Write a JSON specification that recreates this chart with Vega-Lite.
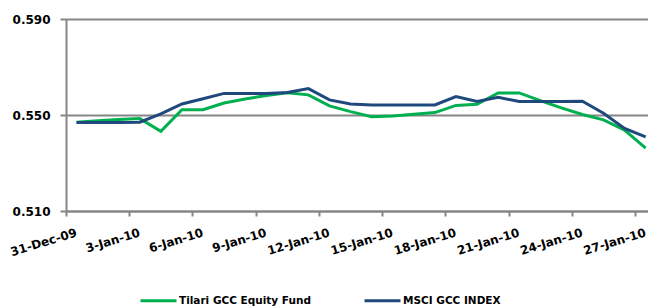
{
  "$schema": "https://vega.github.io/schema/vega-lite/v6.json",
  "autosize": "none",
  "width": 582,
  "height": 192,
  "padding": {"left": 66, "top": 19, "right": 0, "bottom": 95},
  "background": "white",
  "config": {
    "view": {"stroke": null},
    "font": "DejaVu Sans"
  },
  "datasets": {
    "nav": [
      {"date": "2009-12-31", "series": "Tilari GCC Equity Fund", "value": 0.5470},
      {"date": "2010-01-01", "series": "Tilari GCC Equity Fund", "value": 0.5476},
      {"date": "2010-01-02", "series": "Tilari GCC Equity Fund", "value": 0.5481},
      {"date": "2010-01-03", "series": "Tilari GCC Equity Fund", "value": 0.5485},
      {"date": "2010-01-04", "series": "Tilari GCC Equity Fund", "value": 0.5432},
      {"date": "2010-01-05", "series": "Tilari GCC Equity Fund", "value": 0.5522},
      {"date": "2010-01-06", "series": "Tilari GCC Equity Fund", "value": 0.5522},
      {"date": "2010-01-07", "series": "Tilari GCC Equity Fund", "value": 0.5550},
      {"date": "2010-01-08", "series": "Tilari GCC Equity Fund", "value": 0.5567},
      {"date": "2010-01-09", "series": "Tilari GCC Equity Fund", "value": 0.5581},
      {"date": "2010-01-10", "series": "Tilari GCC Equity Fund", "value": 0.5593},
      {"date": "2010-01-11", "series": "Tilari GCC Equity Fund", "value": 0.5584},
      {"date": "2010-01-12", "series": "Tilari GCC Equity Fund", "value": 0.5538},
      {"date": "2010-01-13", "series": "Tilari GCC Equity Fund", "value": 0.5514},
      {"date": "2010-01-14", "series": "Tilari GCC Equity Fund", "value": 0.5493},
      {"date": "2010-01-15", "series": "Tilari GCC Equity Fund", "value": 0.5496},
      {"date": "2010-01-16", "series": "Tilari GCC Equity Fund", "value": 0.5503},
      {"date": "2010-01-17", "series": "Tilari GCC Equity Fund", "value": 0.5510},
      {"date": "2010-01-18", "series": "Tilari GCC Equity Fund", "value": 0.5540},
      {"date": "2010-01-19", "series": "Tilari GCC Equity Fund", "value": 0.5545},
      {"date": "2010-01-20", "series": "Tilari GCC Equity Fund", "value": 0.5592},
      {"date": "2010-01-21", "series": "Tilari GCC Equity Fund", "value": 0.5592},
      {"date": "2010-01-22", "series": "Tilari GCC Equity Fund", "value": 0.5560},
      {"date": "2010-01-23", "series": "Tilari GCC Equity Fund", "value": 0.5530},
      {"date": "2010-01-24", "series": "Tilari GCC Equity Fund", "value": 0.5502},
      {"date": "2010-01-25", "series": "Tilari GCC Equity Fund", "value": 0.5480},
      {"date": "2010-01-26", "series": "Tilari GCC Equity Fund", "value": 0.5437},
      {"date": "2010-01-27", "series": "Tilari GCC Equity Fund", "value": 0.5362},
      {"date": "2009-12-31", "series": "MSCI GCC INDEX", "value": 0.5469},
      {"date": "2010-01-01", "series": "MSCI GCC INDEX", "value": 0.5469},
      {"date": "2010-01-02", "series": "MSCI GCC INDEX", "value": 0.5469},
      {"date": "2010-01-03", "series": "MSCI GCC INDEX", "value": 0.5470},
      {"date": "2010-01-04", "series": "MSCI GCC INDEX", "value": 0.5505},
      {"date": "2010-01-05", "series": "MSCI GCC INDEX", "value": 0.5546},
      {"date": "2010-01-06", "series": "MSCI GCC INDEX", "value": 0.5568},
      {"date": "2010-01-07", "series": "MSCI GCC INDEX", "value": 0.5590},
      {"date": "2010-01-08", "series": "MSCI GCC INDEX", "value": 0.5590},
      {"date": "2010-01-09", "series": "MSCI GCC INDEX", "value": 0.5590},
      {"date": "2010-01-10", "series": "MSCI GCC INDEX", "value": 0.5594},
      {"date": "2010-01-11", "series": "MSCI GCC INDEX", "value": 0.5610},
      {"date": "2010-01-12", "series": "MSCI GCC INDEX", "value": 0.5563},
      {"date": "2010-01-13", "series": "MSCI GCC INDEX", "value": 0.5546},
      {"date": "2010-01-14", "series": "MSCI GCC INDEX", "value": 0.5542},
      {"date": "2010-01-15", "series": "MSCI GCC INDEX", "value": 0.5542},
      {"date": "2010-01-16", "series": "MSCI GCC INDEX", "value": 0.5542},
      {"date": "2010-01-17", "series": "MSCI GCC INDEX", "value": 0.5542},
      {"date": "2010-01-18", "series": "MSCI GCC INDEX", "value": 0.5577},
      {"date": "2010-01-19", "series": "MSCI GCC INDEX", "value": 0.5556},
      {"date": "2010-01-20", "series": "MSCI GCC INDEX", "value": 0.5574},
      {"date": "2010-01-21", "series": "MSCI GCC INDEX", "value": 0.5556},
      {"date": "2010-01-22", "series": "MSCI GCC INDEX", "value": 0.5556},
      {"date": "2010-01-23", "series": "MSCI GCC INDEX", "value": 0.5556},
      {"date": "2010-01-24", "series": "MSCI GCC INDEX", "value": 0.5557},
      {"date": "2010-01-25", "series": "MSCI GCC INDEX", "value": 0.5507},
      {"date": "2010-01-26", "series": "MSCI GCC INDEX", "value": 0.5444},
      {"date": "2010-01-27", "series": "MSCI GCC INDEX", "value": 0.5409}
    ]
  },
  "data": {"name": "nav"},
  "mark": {"type": "line", "strokeWidth": 3, "clip": true},
  "encoding": {
    "x": {
      "field": "date",
      "type": "temporal",
      "timeUnit": "utcyearmonthdate",
      "bandPosition": 0.5,
      "scale": {
        "type": "utc",
        "nice": false,
        "domain": [
          {"year": 2009, "month": 12, "date": 31, "utc": true},
          {"year": 2010, "month": 1, "date": 27, "hours": 14, "minutes": 40, "utc": true}
        ]
      },
      "axis": {
        "title": null,
        "values": [
          {"year": 2009, "month": 12, "date": 31, "utc": true},
          {"year": 2010, "month": 1, "date": 3, "utc": true},
          {"year": 2010, "month": 1, "date": 6, "utc": true},
          {"year": 2010, "month": 1, "date": 9, "utc": true},
          {"year": 2010, "month": 1, "date": 12, "utc": true},
          {"year": 2010, "month": 1, "date": 15, "utc": true},
          {"year": 2010, "month": 1, "date": 18, "utc": true},
          {"year": 2010, "month": 1, "date": 21, "utc": true},
          {"year": 2010, "month": 1, "date": 24, "utc": true},
          {"year": 2010, "month": 1, "date": 27, "utc": true}
        ],
        "format": "%-d-%b-%y",
        "grid": false,
        "domainColor": "#868686",
        "domainWidth": 2,
        "tickColor": "#868686",
        "tickWidth": 2,
        "tickSize": 5,
        "labelAngle": -17,
        "labelAlign": "right",
        "labelBaseline": "top",
        "labelOffset": 8.5,
        "labelPadding": 11,
        "labelFont": "DejaVu Sans",
        "labelFontSize": 12,
        "labelFontWeight": "bold",
        "labelColor": "#000000",
        "labelFlush": false,
        "labelOverlap": false,
        "labelBound": false
      }
    },
    "y": {
      "field": "value",
      "type": "quantitative",
      "scale": {"domain": [0.51, 0.59], "nice": false, "zero": false},
      "axis": {
        "title": null,
        "values": [0.51, 0.55, 0.59],
        "format": ".3f",
        "grid": true,
        "gridColor": "#868686",
        "gridWidth": 2,
        "domainColor": "#868686",
        "domainWidth": 2,
        "tickColor": "#868686",
        "tickWidth": 2,
        "tickSize": 6,
        "labelPadding": 10,
        "labelFont": "DejaVu Sans",
        "labelFontSize": 12,
        "labelFontWeight": "bold",
        "labelColor": "#000000",
        "labelFlush": false,
        "labelOverlap": false
      }
    },
    "color": {
      "field": "series",
      "type": "nominal",
      "sort": ["Tilari GCC Equity Fund", "MSCI GCC INDEX"],
      "scale": {
        "domain": ["Tilari GCC Equity Fund", "MSCI GCC INDEX"],
        "range": ["#00B050", "#1F497D"]
      },
      "legend": {
        "title": null,
        "orient": "none",
        "direction": "horizontal",
        "legendX": 73,
        "legendY": 262,
        "padding": 0,
        "symbolType": "stroke",
        "symbolSize": 1296,
        "symbolStrokeWidth": 3,
        "labelOffset": 1,
        "labelFont": "DejaVu Sans",
        "labelFontSize": 10.5,
        "labelFontWeight": "bold",
        "labelColor": "#000000",
        "labelLimit": 300,
        "columnPadding": 47
      }
    }
  }
}
